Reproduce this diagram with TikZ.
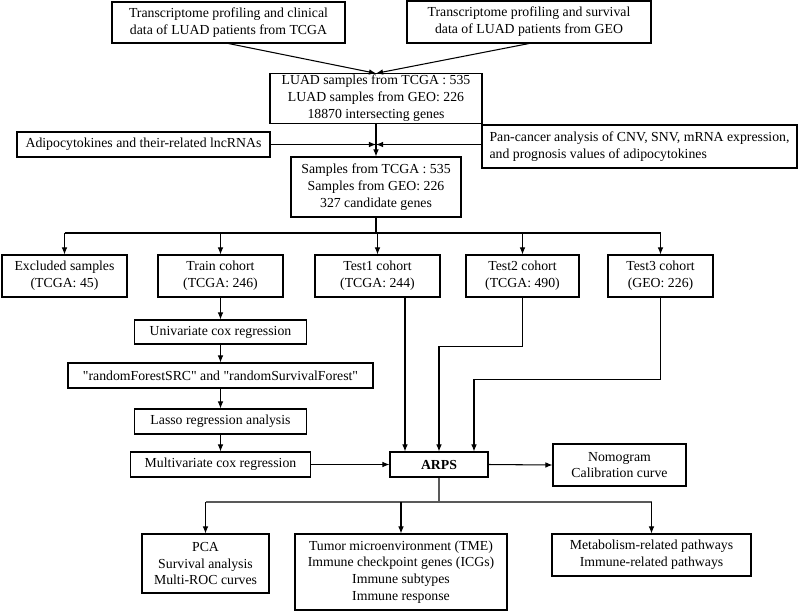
\documentclass[tikz,border=0pt]{standalone}
\usepackage{fontspec}
\setmainfont{Liberation Serif}[Ligatures=TeXOff]
\usetikzlibrary{arrows.meta}

\begin{document}
\begin{tikzpicture}[x=0.025cm, y=-0.025cm, >={Latex[length=5pt,width=4pt]}, line width=0.75pt,
  font=\fontsize{9.8}{12}\selectfont,
  box/.style 2 args={draw, align=center, inner sep=1pt, minimum width=#1*0.025cm, minimum height=#2*0.025cm}]

\useasboundingbox (0,0) rectangle (800,612);

% Data sources
\node [box={233}{41}] (tcga) at (228.5,22.5) {Transcriptome profiling and clinical\\data of LUAD patients from TCGA};
\node [box={244}{42}] (geo) at (529,22) {Transcriptome profiling and survival\\data of LUAD patients from GEO};
\node [box={212}{49}] (luad) at (376,98.5) {LUAD samples from TCGA : 535\\LUAD samples from GEO: 226\\18870 intersecting genes};
\node [box={253}{25}] (adipo) at (143.5,144.5) {Adipocytokines and their-related lncRNAs};
\node [box={315}{43}, align=left] (pan) at (639.5,146.5) {Pan-cancer analysis of CNV, SNV, mRNA expression,\\and prognosis values of adipocytokines};
\node [box={170}{60}] (cand) at (376,187) {Samples from TCGA : 535\\Samples from GEO: 226\\327 candidate genes};

% Cohorts
\node [box={125}{42}] (excl) at (64.5,276) {Excluded samples\\(TCGA: 45)};
\node [box={125}{42}] (train) at (220.5,276) {Train cohort\\(TCGA: 246)};
\node [box={125}{42}] (test1) at (377.5,276) {Test1 cohort\\(TCGA: 244)};
\node [box={113}{42}] (test2) at (522.5,276) {Test2 cohort\\(TCGA: 490)};
\node [box={105}{42}] (test3) at (660.5,276) {Test3 cohort\\(GEO: 226)};

% Train cohort steps
\node [box={172}{24}] (uni) at (220.5,332) {Univariate cox regression};
\node [box={305}{25}] (rf) at (220.5,375.5) {"randomForestSRC" and "randomSurvivalForest"};
\node [box={172}{25}] (lasso) at (220.5,421.5) {Lasso regression analysis};
\node [box={180}{25}] (multi) at (220.5,464.5) {Multivariate cox regression};

% ARPS and outputs
\node [box={98}{25}] (arps) at (439,464.5) {\textbf{ARPS}};
\node [box={133}{42}] (nomo) at (619.5,465) {Nomogram\\Calibration curve};
\node [box={127}{59}] (pca) at (205.5,563.5) {PCA\\Survival analysis\\Multi-ROC curves};
\node [box={212}{76}] (tme) at (401,572) {Tumor microenvironment (TME)\\Immune checkpoint genes (ICGs)\\Immune subtypes\\Immune response};
\node [box={199}{42}] (metab) at (651.5,555) {Metabolism-related pathways\\Immune-related pathways};

% Merge
\draw [->] (tcga.south) -- (luad.north);
\draw [->] (geo.south) -- (luad.north);
\coordinate (j1) at (luad.south |- adipo.east);
\draw (luad.south) -- (j1);
\draw [->] (j1) -- (cand.north);
\draw [->] (adipo.east) -- (j1);
\draw [->] (pan.west |- j1) -- (j1);

% Split into cohorts
\coordinate (br) at (376,233);
\draw (cand.south) -- (br);
\draw (excl.north |- br) -- (test3.north |- br);
\foreach \c in {excl,train,test1,test2,test3}
  \draw [->] (\c.north |- br) -- (\c.north);

% Train cohort
\draw [->] (train.south) -- (uni.north);
\draw [->] (uni.south) -- (rf.north);
\draw [->] (rf.south) -- (lasso.north);
\draw [->] (lasso.south) -- (multi.north);
\draw [->] (multi.east) -- (arps.west);

% Test cohorts
\coordinate (in1) at ([xshift=-0.85cm]arps.north);
\coordinate (in3) at ([xshift=0.875cm]arps.north);
\draw [->] (test1.south -| in1) -- (in1);
\draw [->] (test2.south) -- ++(0,49) -| (arps.north);
\draw [->] (test3.south) -- ++(0,82) -| (in3);

% Outputs
\draw [->] (arps.east) -- (nomo.west);
\coordinate (br2) at (439,502);
\draw [black!65] (arps.south) -- (br2);
\draw [black!65] (pca.north |- br2) -- (metab.north |- br2);
\foreach \c in {pca,tme,metab}
  \draw [->] (\c.north |- br2) -- (\c.north);
\end{tikzpicture}
\end{document}
